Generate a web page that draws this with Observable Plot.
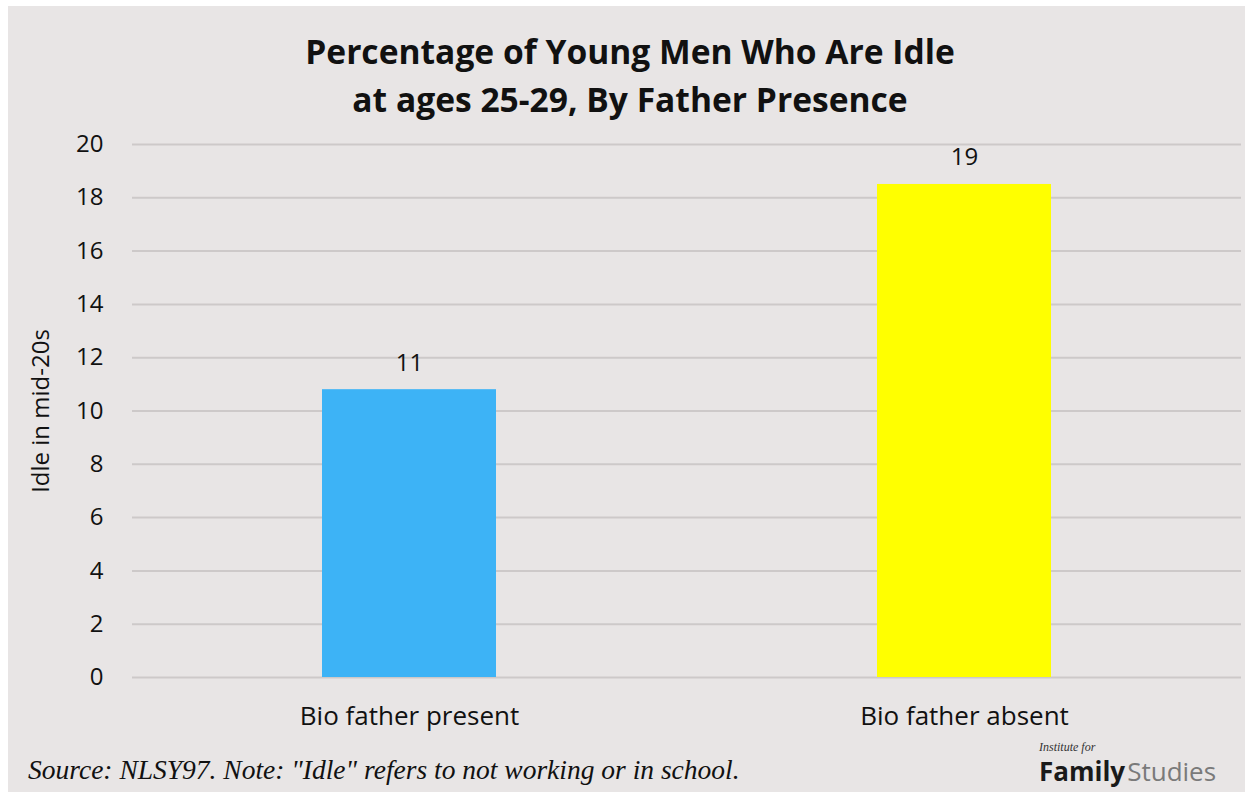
<!DOCTYPE html>
<html>
<head>
<meta charset="utf-8">
<script src="https://cdn.jsdelivr.net/npm/d3@7"></script>
<script src="https://cdn.jsdelivr.net/npm/@observablehq/plot@0.6"></script>
<style>
  html, body { margin: 0; padding: 0; background: #ffffff; }
  #wrap { position: relative; width: 1245px; height: 798px; overflow: hidden; background: #ffffff; }
  #panel { position: absolute; left: 8px; top: 6px; width: 1237px; height: 786px; background: #e8e5e5; }
  #title { position: absolute; left: 0; width: 1260px; top: 27px; text-align: center;
           font-family: "Open Sans", sans-serif; font-weight: 700; font-size: 33.6px; line-height: 48px; color: #111; }
  #chart { position: absolute; left: 0; top: 0; }
  #source { position: absolute; left: 28px; top: 754px; font-family: "Liberation Serif", "Times New Roman", serif;
            font-style: italic; font-size: 27.5px; color: #111; white-space: nowrap; }
  #logo { position: absolute; left: 1039px; top: 740px; color: #222; }
  #logo .inst { font-family: "Liberation Serif", serif; font-style: italic; font-size: 12px; line-height: 14px; color: #333; }
  #logo .fam { font-family: "Open Sans", sans-serif; font-size: 26px; line-height: 34px; white-space: nowrap; }
  #logo .fam b { font-weight: 700; color: #1a1a1a; }
  #logo .fam span { font-weight: 400; color: #7a7a7a; margin-left: 2px; }
</style>
</head>
<body>
<div id="wrap">
  <div id="panel"></div>
  <div id="chart"></div>
  <div id="title">Percentage of Young Men Who Are Idle<br>at ages 25-29, By Father Presence</div>
  <div id="source">Source: NLSY97. Note: "Idle" refers to not working or in school.</div>
  <div id="logo"><div class="inst">Institute for</div><div class="fam"><b>Family</b><span>Studies</span></div></div>
</div>
<script>
const categories = ["Bio father present", "Bio father absent"];
const values = [10.8, 18.5];
const valueLabels = ["11", "19"];
const barColors = ["#3db3f6", "#ffff00"];
const yTicks = [0, 2, 4, 6, 8, 10, 12, 14, 16, 18, 20];

const data = categories.map((c, i) => ({ category: c, value: values[i], label: valueLabels[i], color: barColors[i] }));

const plot = Plot.plot({
  width: 1245,
  height: 798,
  marginTop: 144,
  marginBottom: 121,
  marginLeft: 132,
  marginRight: 4,
  style: { background: "transparent", fontFamily: "Open Sans, sans-serif", fontSize: "25px", color: "#111" },
  x: { domain: categories, paddingInner: 0.686, paddingOuter: 0.342, label: null },
  y: { domain: [0, 20], ticks: yTicks, label: null },
  marks: [
    Plot.gridY(yTicks, { stroke: "#cdc9c9", strokeWidth: 2, strokeOpacity: 1 }),
    Plot.barY(data, { x: "category", y: "value", fill: "color" }),
    Plot.text(data, { x: "category", y: "value", text: "label", dy: -19, lineAnchor: "bottom", fontSize: 24, fill: "#111" }),
    Plot.axisX({ tickSize: 0, tickPadding: 29, fontSize: 26, label: null }),
    Plot.axisY(yTicks, { tickSize: 0, tickPadding: 29, fontSize: 24, label: "Idle in mid-20s", labelAnchor: "center", labelArrow: "none", labelOffset: 101 })
  ]
});
document.getElementById("chart").appendChild(plot);
</script>
</body>
</html>
